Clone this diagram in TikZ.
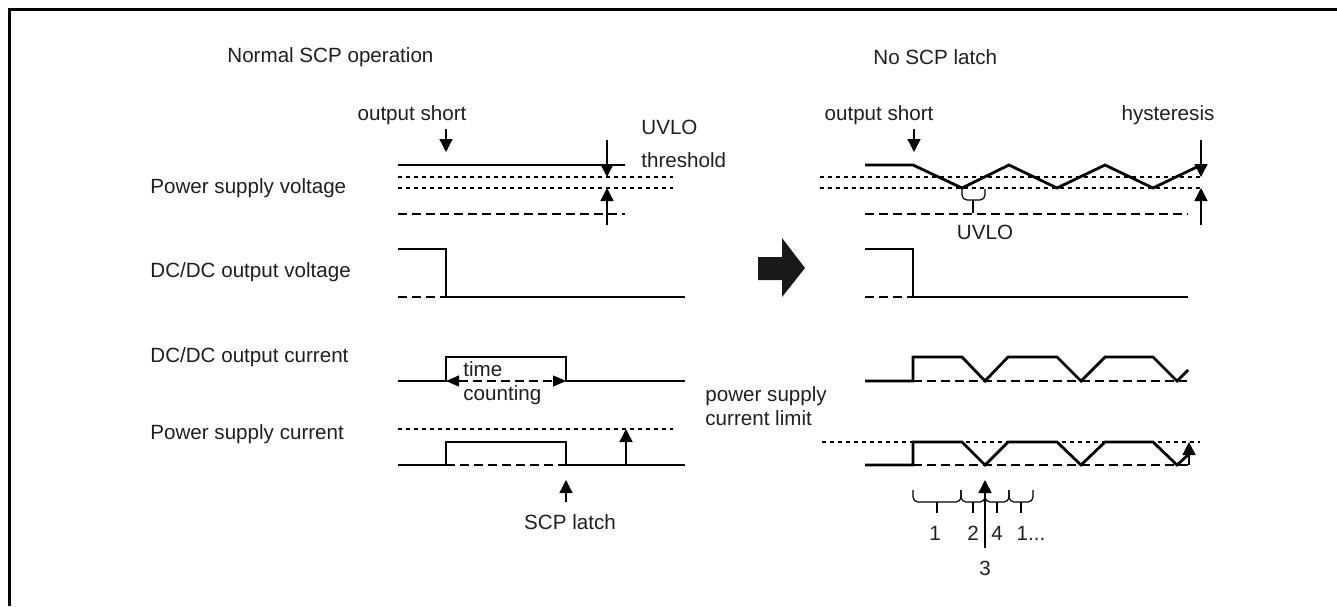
\documentclass[tikz,border=0pt]{standalone}
\usepackage{fontspec}
\setmainfont{Liberation Sans}
\usepackage{tikz}
\usetikzlibrary{arrows.meta}

\begin{document}
\begin{tikzpicture}[x=0.5pt,y=-0.5pt,
    sig/.style={line width=1.4pt,line join=miter},
    lim/.style={line width=0.6pt,dash pattern=on 2pt off 2pt},
    ref/.style={line width=0.6pt,dash pattern=on 4.5pt off 2.5pt},
    pointer/.style={line width=0.7pt,-{Triangle[length=6.5pt,width=6.5pt]}},
    brc/.style={line width=0.6pt,rounded corners=2.5pt},
    lbl/.style={inner sep=0pt,text=black!88,font=\fontsize{10.3}{12}\selectfont}]
    \useasboundingbox (0,0) rectangle (1337,606);
    \draw[line width=1.5pt] (9.5,606) -- (9.5,9.5) -- (1337,9.5);
    % titles and row names
    \node[lbl,anchor=west] (tl) at (227,57) {Normal SCP operation};
    \node[lbl,anchor=west] (tr) at (873,57) {No SCP latch};
    \node[lbl,anchor=west] (psv) at (150,188) {Power supply voltage};
    \node[lbl,anchor=west] (dcv) at (150,272) {DC/DC output voltage};
    \node[lbl,anchor=west] (dci) at (150,357) {DC/DC output current};
    \node[lbl,anchor=west] (psi) at (150,434) {Power supply current};
    % left: power supply voltage
    \draw[lim] (398,177) -- (673,177) (398,188) -- (673,188);
    \draw[ref] (398,214) -- (625,214);
    \draw[sig] (398,165) -- (625,165);
    \node[lbl] (osl) at (412,115) {output short};
    \draw[pointer] (446,129) -- (446,152);
    \node[lbl,anchor=west] (uvl) at (641,127) {UVLO};
    \node[lbl,anchor=west] (thr) at (641,160) {threshold};
    \draw[pointer] (607,140) -- (607,177);
    \draw[pointer] (607,225) -- (607,188);
    % left: DC/DC output voltage
    \draw[ref] (398,297) -- (446,297);
    \draw[sig] (398,249) -- (446,249) -- (446,297) -- (685,297);
    % left: DC/DC output current
    \draw[sig] (398,381) -- (446,381) -- (446,357) -- (566,357) -- (566,381) -- (685,381);
    \draw[ref,{Triangle[length=6.5pt,width=5.5pt]}-{Triangle[length=6.5pt,width=5.5pt]}]
      (446,381) -- (566,381);
    \node[lbl,anchor=west,align=left] (tc) at (463,383) {time\\counting};
    % left: power supply current
    \draw[lim] (398,429) -- (673,429);
    \draw[ref] (446,465) -- (566,465);
    \draw[sig] (398,465) -- (446,465) -- (446,442) -- (566,442) -- (566,465) -- (685,465);
    \draw[pointer] (626,465) -- (626,429);
    \draw[pointer] (566,502) -- (566,480);
    \node[lbl] (scp) at (570,522) {SCP latch};
    % big arrow
    \fill[black!90] (758,257) -- (782,257) -- (782,238) -- (805,268) -- (782,297)
      -- (782,280) -- (758,280) -- cycle;
    \node[lbl,anchor=west,align=left] (pscl) at (705,406) {power supply\\current limit};
    % right: power supply voltage
    \draw[lim] (820,177) -- (1202,177) (820,188) -- (1202,188);
    \draw[ref] (865,214) -- (1188,214);
    \draw[sig] (865,165) -- (913,165) -- (962,188) -- (1009,165) -- (1057,188)
      -- (1105,165) -- (1153,188) -- (1201,165);
    \node[lbl] (osr) at (879,115) {output short};
    \draw[pointer] (914,129) -- (914,152);
    \node[lbl] (hys) at (1168,115) {hysteresis};
    \draw[pointer] (1201,140) -- (1201,177);
    \draw[pointer] (1201,225) -- (1201,188);
    \draw[brc] (962,189) -- (962,200) -- (985,200) -- (985,189);
    \draw[line width=0.6pt] (973,200) -- (973,213);
    \node[lbl] (uvr) at (985,232) {UVLO};
    % right: DC/DC output voltage
    \draw[ref] (865,297) -- (913,297);
    \draw[sig] (865,249) -- (913,249) -- (913,297) -- (1188,297);
    % right: DC/DC output current
    \draw[ref] (913,381) -- (1187,381);
    \draw[sig] (865,381) -- (913,381) -- (913,357) -- (962,357) -- (985,381) -- (1008,357)
      -- (1057,357) -- (1081,381) -- (1105,357) -- (1153,357) -- (1177,381) -- (1188,370);
    % right: power supply current
    \draw[lim] (822,442) -- (1200,442);
    \draw[ref] (913,465) -- (1190,465);
    \draw[sig] (865,465) -- (913,465) -- (913,442) -- (962,442) -- (985,465) -- (1008,442)
      -- (1057,442) -- (1081,465) -- (1105,442) -- (1153,442) -- (1177,465) -- (1188,455);
    \draw[pointer] (1189,465) -- (1189,442);
    % phases
    \foreach \a/\b in {913/961,961/985,985/1009,1009/1033} {
      \draw[brc] (\a,490) -- (\a,502) -- (\b,502) -- (\b,490);
      \draw[line width=0.6pt] ({(\a+\b)/2},502) -- ({(\a+\b)/2},513);
    }
    \draw[pointer,line width=0.8pt] (985,548) -- (985,480);
    \node[lbl] (p1) at (935,533) {1};
    \node[lbl] (p2) at (973,533) {2};
    \node[lbl] (p4) at (997,533) {4};
    \node[lbl] (p5) at (1031,533) {1...};
    \node[lbl] (p3) at (985,568) {3};
\end{tikzpicture}
\end{document}
